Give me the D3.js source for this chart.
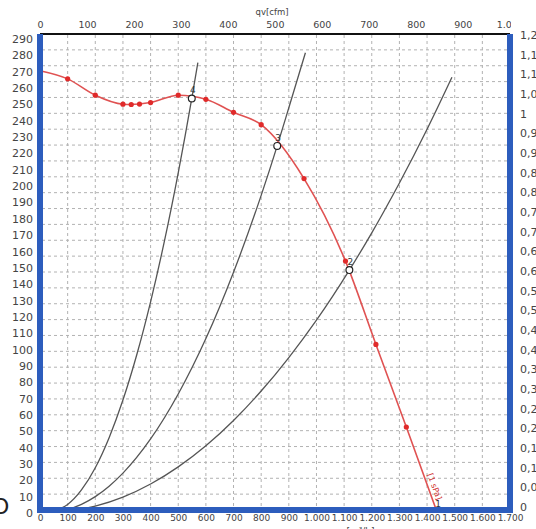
<!DOCTYPE html>
<html><head><meta charset="utf-8">
<script src="https://cdn.jsdelivr.net/npm/d3@7"></script>
<style>
html,body{margin:0;padding:0;background:#fff;}
svg{display:block;}
text{font-family:"DejaVu Sans",sans-serif;}
</style></head>
<body>
<svg id="c" width="536" height="529"></svg>
<script>
// ---- data ----
const fanQ = [0, 100, 200, 300, 330, 360, 400, 500, 600, 700, 800, 955, 1105, 1215, 1325, 1436];
const fanP = [270, 265, 255, 249.5, 249.3, 249.6, 250.5, 255, 252.5, 244.5, 237, 204, 153.5, 102.5, 52, 0];
const sysAQ = [30, 100, 150, 200, 250, 300, 350, 400, 450, 500, 549, 571];
const sysAP = [0, 4.6, 13.5, 27.1, 45.5, 68.5, 96.2, 128.6, 165.7, 207.5, 253, 275];
const sysBQ = [30, 100, 150, 200, 250, 300, 400, 500, 600, 700, 800, 858, 900, 960];
const sysBP = [0, 1.6, 4.7, 9.4, 15.8, 23.8, 44.7, 72.2, 106.1, 146.7, 193.7, 224, 247.3, 281];
const sysCQ = [30, 100, 200, 300, 400, 500, 600, 700, 800, 900, 1000, 1119, 1200, 1300, 1400, 1490];
const sysCP = [0, 0.6, 3.6, 9.1, 17.1, 27.6, 40.5, 56, 74, 94.5, 117.4, 148, 170.8, 201.3, 234.2, 266];
const opQ = [549, 858, 1119, 1436];
const opP = [253, 224, 148, 0];
const opLabel = ["4", "3", "2", "1"];
const bottomTicks = [0,100,200,300,400,500,600,700,800,900,1000,1100,1200,1300,1400,1500,1600,1700];
const topTicks = [0,100,200,300,400,500,600,700,800,900,1000];
const leftTicks = d3.range(0, 291, 10);
const rightTicks = [0,0.05,0.1,0.15,0.2,0.25,0.3,0.35,0.4,0.45,0.5,0.55,0.6,0.65,0.7,0.75,0.8,0.85,0.9,0.95,1,1.05,1.1,1.15,1.2];
const gridRows = d3.range(1, 30);

// ---- scales ----
const loc = d3.formatLocale({decimal: ",", thousands: ".", grouping: [3], currency: ["", ""]});
const fmtThousand = loc.format(",");
const fmtDec = v => loc.format("~r")(+v.toFixed(2));

const x = d3.scaleLinear().domain([0, 1700]).range([40, 510]);
const xc = d3.scaleLinear().domain([0, 1700 / 1.699]).range([40, 510]);
const y = d3.scaleLinear().domain([0, 290]).range([512, 38]);
const yR = d3.scaleLinear().domain([0, 1.2]).range([507, 35]);
const gy = d3.scaleLinear().domain([0, 30]).range([510, 34]);

const svg = d3.select("#c");
const blue = "#2d5dbd";

// grid
const grid = svg.append("g").attr("stroke", "#b2b2b2").attr("stroke-width", 1).attr("stroke-dasharray", "3,3");
grid.selectAll("line.v").data(bottomTicks.slice(1, -1)).join("line")
  .attr("x1", d => x(d)).attr("x2", d => x(d)).attr("y1", 35).attr("y2", 508);
grid.selectAll("line.h").data(gridRows).join("line")
  .attr("x1", 42).attr("x2", 508).attr("y1", d => gy(d)).attr("y2", d => gy(d));

// system curves
const line = d3.line().x(d => x(d[0])).y(d => y(d[1])).curve(d3.curveMonotoneX);
[[sysAQ, sysAP], [sysBQ, sysBP], [sysCQ, sysCP]].forEach(([qs, ps]) => {
  svg.append("path").datum(qs.map((q, i) => [q, ps[i]]))
    .attr("d", line).attr("fill", "none").attr("stroke", "#555").attr("stroke-width", 1.3);
});

// fan curve
const fanData = fanQ.map((q, i) => [q, fanP[i]]);
svg.append("path").datum(fanData).attr("d", line)
  .attr("fill", "none").attr("stroke", "#e05252").attr("stroke-width", 1.6);
svg.selectAll("circle.m").data(fanData.slice(1, -1)).join("circle")
  .attr("cx", d => x(d[0])).attr("cy", d => y(d[1])).attr("r", 2.6).attr("fill", "#e02a2a");

// operating points
svg.selectAll("circle.op").data(opQ.slice(0, 3)).join("circle")
  .attr("cx", d => x(d)).attr("cy", (d, i) => y(opP[i])).attr("r", 3.4)
  .attr("fill", "#fff").attr("stroke", "#222").attr("stroke-width", 1.2);
svg.selectAll("text.op").data(opQ).join("text")
  .attr("x", d => x(d) + 1).attr("y", (d, i) => y(opP[i]) - 5)
  .attr("text-anchor", "middle").attr("font-size", 9).attr("fill", "#333")
  .text((d, i) => opLabel[i]);
svg.append("text")
  .attr("transform", `translate(${x(1436) - 5},${y(15)}) rotate(70)`)
  .attr("text-anchor", "middle").attr("font-size", 8).attr("fill", "#d03030")
  .text("[1 sPa]");

// frame
svg.append("line").attr("x1", 40).attr("x2", 510).attr("y1", 34).attr("y2", 34)
  .attr("stroke", "#111").attr("stroke-width", 2);
svg.append("rect").attr("x", 37).attr("y", 34).attr("width", 6).attr("height", 479).attr("fill", blue);
svg.append("rect").attr("x", 507).attr("y", 34).attr("width", 6).attr("height", 479).attr("fill", blue);
svg.append("rect").attr("x", 37).attr("y", 507).attr("width", 476).attr("height", 6).attr("fill", blue);

// axes
function clean(g) { g.select(".domain").remove(); g.selectAll("line").remove(); }
svg.append("clipPath").attr("id", "topclip").append("rect").attr("x", 0).attr("y", -40).attr("width", 511).attr("height", 43);
svg.append("g").attr("transform", "translate(0,31)").attr("clip-path", "url(#topclip)")
  .call(d3.axisTop(xc).tickValues(topTicks).tickSize(0).tickFormat(fmtThousand))
  .call(clean).call(g => g.selectAll("text").attr("font-size", 9.5).attr("fill", "#444").attr("font-family", "DejaVu Sans"));
svg.append("g").attr("transform", "translate(0,512)")
  .call(d3.axisBottom(x).tickValues(bottomTicks).tickSize(0).tickFormat(fmtThousand))
  .call(clean).call(g => g.selectAll("text").attr("font-size", 9).attr("fill", "#444").attr("font-family", "DejaVu Sans"));
svg.append("g").attr("transform", "translate(36,1)")
  .call(d3.axisLeft(y).tickValues(leftTicks).tickSize(0).tickPadding(3))
  .call(clean).call(g => g.selectAll("text").attr("font-size", 11).attr("fill", "#444").attr("font-family", "DejaVu Sans"));
svg.append("g").attr("transform", "translate(516,0)")
  .call(d3.axisRight(yR).tickValues(rightTicks).tickSize(0).tickPadding(4).tickFormat(fmtDec))
  .call(clean).call(g => g.selectAll("text").attr("font-size", 11).attr("fill", "#444").attr("font-family", "DejaVu Sans"));

svg.append("text").attr("x", 272).attr("y", 15).attr("text-anchor", "middle")
  .attr("font-size", 8.5).attr("fill", "#444").text("qv[cfm]");
svg.append("text").attr("x", 355).attr("y", 534).attr("text-anchor", "middle")
  .attr("font-size", 9).attr("fill", "#444").text("qv[m³/h]");
svg.append("text").attr("x", -8).attr("y", 514).attr("font-size", 22).attr("fill", "#222").text("O");
</script>
</body></html>
